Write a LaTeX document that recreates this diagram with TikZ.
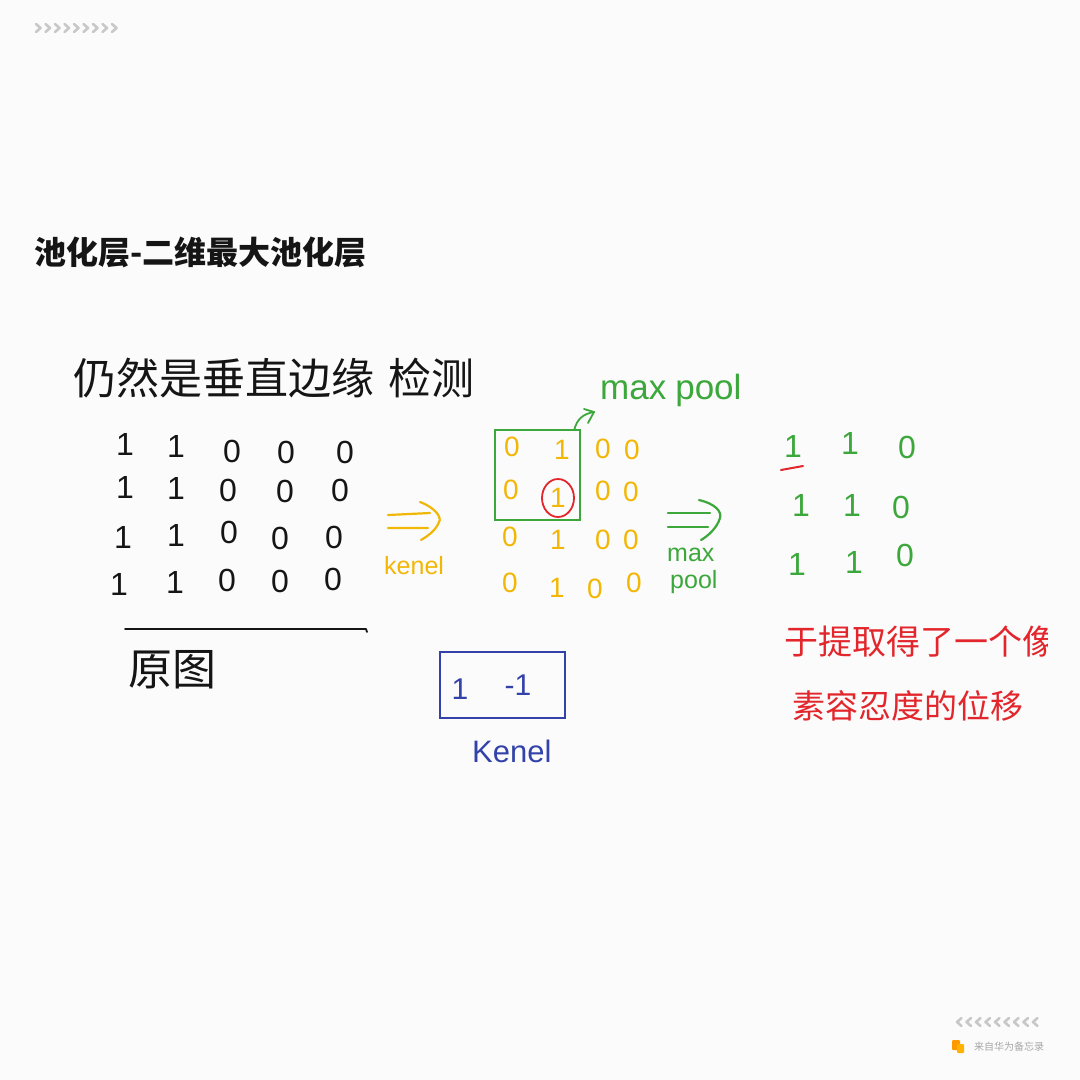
\documentclass[tikz,border=0pt]{standalone}
\usepackage{fontspec}
\setmainfont{Liberation Sans}
\newfontfamily\cjk{Noto Sans CJK SC}
\usetikzlibrary{arrows.meta}
\definecolor{hyel}{HTML}{F2B705}
\definecolor{hgrn}{HTML}{3CA83C}
\definecolor{hred}{HTML}{E2262C}
\definecolor{hblu}{HTML}{3242A8}
\definecolor{hblk}{HTML}{151515}
\definecolor{chev}{HTML}{C8C8C8}
\tikzset{
  hw/.style={line width=2.2pt, line cap=round, line join=round},
  dg/.style={inner sep=0pt, font=\fontsize{#1}{#1}\selectfont},
  chevstyle/.style={draw=chev, line width=2.6pt, line cap=round, line join=round},
}
\begin{document}
\begin{tikzpicture}[x=1pt,y=-1pt]
\useasboundingbox (0,0) rectangle (1080,1080);
\fill[white!97!gray] (0,0) rectangle (1080,1080);
% top-left chevrons
\foreach \i in {0,...,8}{
  \draw[chevstyle] (36+\i*9.5,24) -- (40.5+\i*9.5,28) -- (36+\i*9.5,32);
}
% title
\node[anchor=west, inner sep=0pt, text=hblk, font=\cjk\bfseries\fontsize{32}{32}\selectfont] (title) at (34,252) {池化层-二维最大池化层};
% handwritten heading
\node[anchor=west, inner sep=0pt, text=hblk, font=\cjk\fontsize{43}{43}\selectfont] (head) at (73,378) {仍然是垂直边缘\hspace{14pt}检测};
% left matrix
\begin{scope}[every node/.style={dg=32, text=hblk}]
\node (a11) at (125,444) {1}; \node (a12) at (176,446) {1}; \node (a13) at (232,451) {0}; \node (a14) at (286,452) {0}; \node (a15) at (345,452) {0};
\node (a21) at (125,487) {1}; \node (a22) at (176,488) {1}; \node (a23) at (228,490) {0}; \node (a24) at (285,491) {0}; \node (a25) at (340,490) {0};
\node (a31) at (123,537) {1}; \node (a32) at (176,535) {1}; \node (a33) at (229,532) {0}; \node (a34) at (280,538) {0}; \node (a35) at (334,537) {0};
\node (a41) at (119,584) {1}; \node (a42) at (175,582) {1}; \node (a43) at (227,580) {0}; \node (a44) at (280,581) {0}; \node (a45) at (333,579) {0};
\end{scope}
\coordinate (ulL) at (125,629);
\coordinate (ulR) at (367,632);
\draw[hw, hblk, line width=1.8pt] (ulL) -- (366,629) -- (ulR);
\node[anchor=west, inner sep=0pt, text=hblk, font=\cjk\fontsize{44}{44}\selectfont] (orig) at (128,670) {原图};
% yellow arrow + kenel
\coordinate (ya) at (388,515);
\draw[hw, hyel] (ya) -- ++(42,-2) (388,528) -- ++(40,0);
\draw[hw, hyel] (420,502) .. controls (436,508) and (442,518) .. (439,522) .. controls (436,530) and (428,536) .. (421,540);
\node[anchor=west, inner sep=0pt, text=hyel, font=\fontsize{25}{25}\selectfont] (kenelY) at (384,566) {kenel};
% yellow matrix
\begin{scope}[every node/.style={dg=28, text=hyel}]
\node (b11) at (512,447) {0}; \node (b12) at (562,450) {1}; \node (b13) at (603,449) {0}; \node (b14) at (632,450) {0};
\node (b21) at (511,490) {0}; \node (b22) at (558,498) {1}; \node (b23) at (603,491) {0}; \node (b24) at (631,492) {0};
\node (b31) at (510,537) {0}; \node (b32) at (558,540) {1}; \node (b33) at (603,540) {0}; \node (b34) at (631,540) {0};
\node (b41) at (510,583) {0}; \node (b42) at (557,588) {1}; \node (b43) at (595,589) {0}; \node (b44) at (634,583) {0};
\end{scope}
% green pooling window
\node[draw=hgrn, line width=2pt, minimum width=85pt, minimum height=90pt, inner sep=0pt] (win) at (537,475) {};
\draw[hred, line width=1.8pt] (b22) ellipse [x radius=16pt, y radius=19pt];
% max pool label + small arrow
\node[anchor=west, inner sep=0pt, text=hgrn, font=\fontsize{35}{35}\selectfont] (mp1) at (600,390) {max\hspace{9pt}pool};
\coordinate (tip) at (594,412);
\draw[hw, hgrn, line width=1.8pt] ([xshift=-6pt]win.north east) .. controls (577,420) and (582,414) .. (tip);
\draw[hw, hgrn, line width=1.8pt] (584,409) -- (tip) -- (588,423);
% green arrow + max pool
\coordinate (ga) at (668,513);
\draw[hw, hgrn] (ga) -- ++(42,0) (668,527) -- ++(40,0);
\draw[hw, hgrn] (699,500) .. controls (716,504) and (722,512) .. (720,518) .. controls (717,528) and (708,536) .. (701,540);
\node[anchor=west, inner sep=0pt, text=hgrn, font=\fontsize{25}{25}\selectfont] (mp2a) at (667,555) {max};
\node[anchor=west, inner sep=0pt, text=hgrn, font=\fontsize{25}{25}\selectfont] (mp2b) at (670,582) {pool};
% output matrix
\begin{scope}[every node/.style={dg=32, text=hgrn}]
\node (c11) at (793,446) {1}; \node (c12) at (850,443) {1}; \node (c13) at (907,447) {0};
\node (c21) at (801,505) {1}; \node (c22) at (852,505) {1}; \node (c23) at (901,507) {0};
\node (c31) at (797,564) {1}; \node (c32) at (854,562) {1}; \node (c33) at (905,555) {0};
\end{scope}
\draw[hw, hred, line width=2pt] (781,470) -- (803,466);
% red text (clipped at right)
\begin{scope}
\clip (700,590) rectangle (1047,760);
\node[anchor=west, inner sep=0pt, text=hred, font=\cjk\fontsize{34}{34}\selectfont] (r1) at (784,642) {于提取得了一个像};
\node[anchor=west, inner sep=0pt, text=hred, font=\cjk\fontsize{33}{33}\selectfont] (r2) at (792,706) {素容忍度的位移};
\end{scope}
% blue kernel
\node[draw=hblu, line width=2pt, minimum width=125pt, minimum height=66pt, inner sep=0pt] (kbox) at (502,685) {};
\node[dg=30, text=hblu] (k1) at (460,689) {1};
\node[dg=30, text=hblu] (k2) at (518,685) {-1};
\node[anchor=west, inner sep=0pt, text=hblu, font=\fontsize{31}{31}\selectfont] (kenelB) at (472,751) {Kenel};
% bottom-right chevrons and credit
\foreach \i in {0,...,8}{
  \draw[chevstyle] (961.5+\i*9.5,1018) -- (957+\i*9.5,1022) -- (961.5+\i*9.5,1026);
}
\fill[orange!80!yellow, rounded corners=1pt] (952,1040) rectangle (960,1050);
\fill[orange!60!yellow, rounded corners=1pt] (957,1044) rectangle (964,1053);
\node[anchor=west, inner sep=0pt, text=gray!70, font=\cjk\fontsize{10}{10}\selectfont] (credit) at (974,1047) {来自华为备忘录};
\end{tikzpicture}
\end{document}
